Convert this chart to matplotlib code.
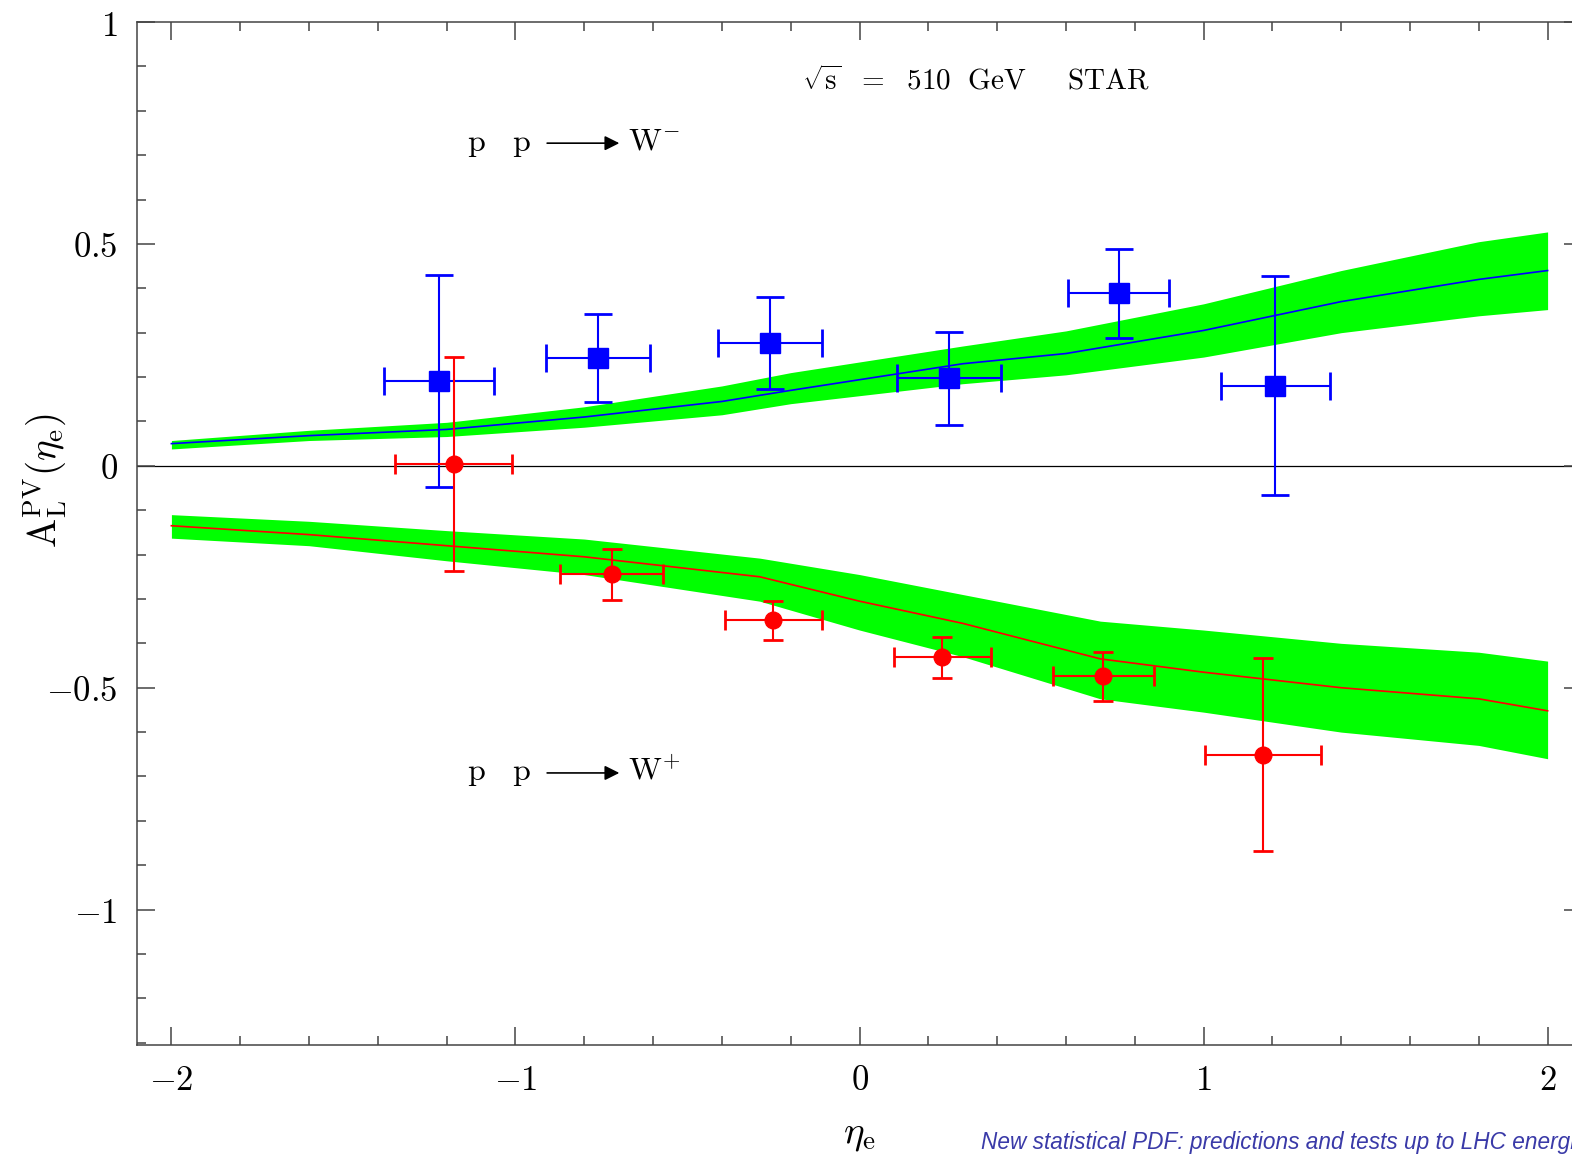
import matplotlib
matplotlib.use('Agg')
import matplotlib.pyplot as plt
import matplotlib.ticker as ticker

plt.rcParams['mathtext.fontset'] = 'cm'
plt.rcParams['font.family'] = ['DejaVu Serif']

# theory band, p p -> W-  (blue curve + green band)
eta_wm = [-2.0, -1.6, -1.2, -0.8, -0.4, -0.2, 0.3, 0.6, 1.0, 1.4, 1.8, 2.0]
wm_mid = [0.050, 0.068, 0.082, 0.110, 0.145, 0.170, 0.230, 0.253, 0.305, 0.370, 0.420, 0.440]
wm_hi = [0.057, 0.080, 0.098, 0.133, 0.180, 0.210, 0.270, 0.304, 0.365, 0.440, 0.505, 0.527]
wm_lo = [0.038, 0.057, 0.066, 0.087, 0.115, 0.140, 0.185, 0.205, 0.245, 0.300, 0.338, 0.352]

# theory band, p p -> W+  (red curve + green band)
eta_wp = [-2.0, -1.6, -1.2, -0.8, -0.29, 0.0, 0.3, 0.7, 1.0, 1.4, 1.8, 2.0]
wp_mid = [-0.135, -0.155, -0.180, -0.205, -0.250, -0.305, -0.355, -0.435, -0.465, -0.500, -0.525, -0.552]
wp_hi = [-0.110, -0.125, -0.146, -0.165, -0.208, -0.245, -0.290, -0.350, -0.370, -0.400, -0.420, -0.440]
wp_lo = [-0.163, -0.180, -0.214, -0.245, -0.305, -0.370, -0.430, -0.525, -0.555, -0.600, -0.630, -0.660]

# STAR data, W-
wm_x = [-1.221, -0.760, -0.261, 0.260, 0.753, 1.209]
wm_y = [0.190, 0.243, 0.276, 0.198, 0.390, 0.180]
wm_ey_up = [0.240, 0.100, 0.105, 0.104, 0.099, 0.248]
wm_ey_dn = [0.237, 0.100, 0.104, 0.105, 0.101, 0.245]
wm_ex = [0.160, 0.150, 0.151, 0.150, 0.148, 0.158]

# STAR data, W+
wp_x = [-1.179, -0.720, -0.250, 0.241, 0.709, 1.172]
wp_y = [0.005, -0.244, -0.348, -0.430, -0.473, -0.651]
wp_ey_up = [0.240, 0.057, 0.044, 0.045, 0.054, 0.219]
wp_ey_dn = [0.243, 0.058, 0.045, 0.047, 0.056, 0.218]
wp_ex = [0.170, 0.150, 0.140, 0.140, 0.148, 0.168]

fig = plt.figure(figsize=(15.72, 11.56), dpi=100)
ax = fig.add_axes([137 / 1572, 111 / 1156, 1445 / 1572, 1023 / 1156])

ax.fill_between(eta_wm, wm_lo, wm_hi, color='#00ff00', lw=0, zorder=1)
ax.fill_between(eta_wp, wp_lo, wp_hi, color='#00ff00', lw=0, zorder=1)
ax.plot(eta_wm, wm_mid, color='#0000ff', lw=1.2, zorder=2)
ax.plot(eta_wp, wp_mid, color='#ff0000', lw=1.2, zorder=2)
ax.axhline(0, color='black', lw=0.9, zorder=1.5)

ax.errorbar(wm_x, wm_y, yerr=[wm_ey_dn, wm_ey_up], xerr=wm_ex, fmt='s', color='#0000ff',
            ms=14, lw=1.5, capsize=10, capthick=2, zorder=3)
ax.errorbar(wp_x, wp_y, yerr=[wp_ey_dn, wp_ey_up], xerr=wp_ex, fmt='o', color='#ff0000',
            ms=12, lw=1.5, capsize=7, capthick=2, zorder=3)

ax.set_xlim(-2.1, 2.1)
ax.set_ylim(-1.305, 1.0)

ax.xaxis.set_major_locator(ticker.MultipleLocator(1))
ax.xaxis.set_minor_locator(ticker.MultipleLocator(0.2))
ax.yaxis.set_major_locator(ticker.FixedLocator([-1, -0.5, 0, 0.5, 1]))
ax.yaxis.set_minor_locator(ticker.MultipleLocator(0.1))


def fmt(v, pos):
    if abs(v) < 1e-9:
        return r'$0$'
    return r'$%s$' % ('%g' % v)


ax.xaxis.set_major_formatter(ticker.FuncFormatter(fmt))
ax.yaxis.set_major_formatter(ticker.FuncFormatter(fmt))
ax.tick_params(which='both', direction='in', top=True, right=True, color='#444444', width=1.1)
ax.tick_params(which='major', length=13, labelsize=25)
ax.tick_params(axis='x', which='major', pad=13)
ax.tick_params(axis='y', which='major', pad=14)
ax.tick_params(which='minor', length=6.5)
for sp in ax.spines.values():
    sp.set_color('#444444')
    sp.set_linewidth(1.1)

ax.set_xlabel(r'$\eta_{\mathrm{e}}$', fontsize=28)
ax.xaxis.set_label_coords(0.5, -0.069)
ax.set_ylabel(r'$\mathrm{A}_{\mathrm{L}}^{\mathrm{PV}}(\eta_{\mathrm{e}})$', fontsize=28)
ax.yaxis.set_label_coords(-0.047, 0.552)

ax.text(0.34, 0.867, r'$\sqrt{\mathrm{s}}\ \ =\ \ 510\ \ \mathrm{GeV}\quad\ \ \mathrm{STAR}$',
        fontsize=21, ha='center', va='center')

for yy, lab in [(0.727, r'$\mathrm{W}^{-}$'), (-0.692, r'$\mathrm{W}^{+}$')]:
    ax.text(-1.142, yy, r'$\mathrm{p\ \ \ p}$', fontsize=23, ha='left', va='center')
    ax.annotate('', xy=(-0.69, yy), xytext=(-0.916, yy),
                arrowprops=dict(arrowstyle='-|>', color='black', lw=1.2, mutation_scale=22))
    ax.text(-0.674, yy + 0.005, lab, fontsize=23, ha='left', va='center')

fig.text(981 / 1572, 1 - 1143 / 1156, 'New statistical PDF: predictions and tests up to LHC energies',
         fontsize=16.3, style='italic', family='Liberation Sans', color='#3a3aa8',
         ha='left', va='center')

fig.savefig('out.png', dpi=100)
